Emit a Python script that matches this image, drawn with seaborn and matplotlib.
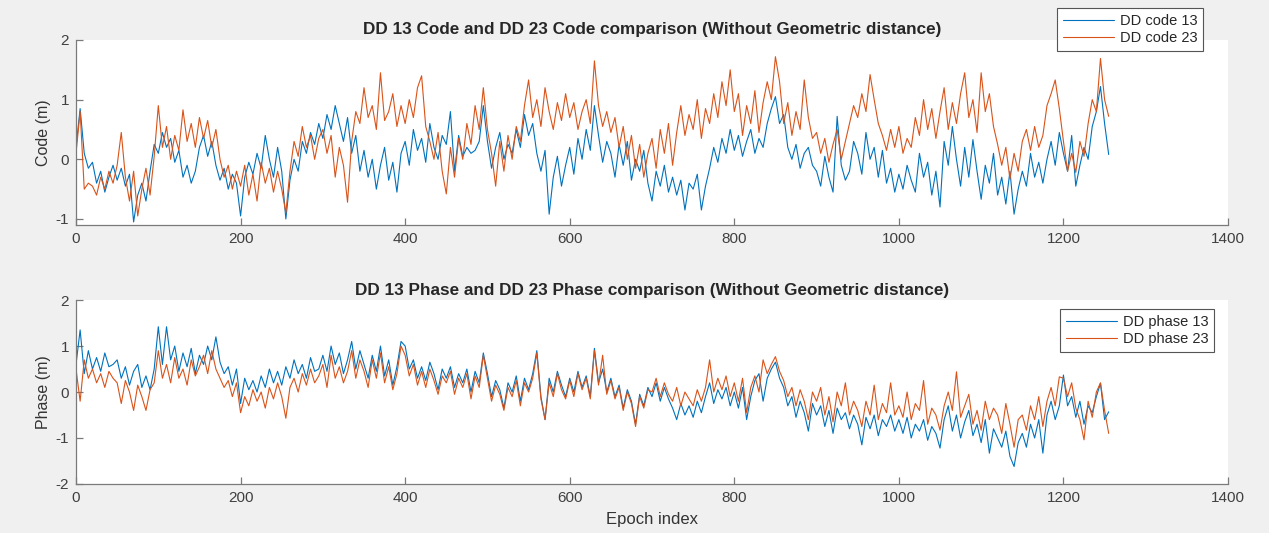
import numpy as np
import pandas as pd
import matplotlib
matplotlib.use("Agg")
import matplotlib.pyplot as plt
import seaborn as sns

# ===== data (one value every 5 epochs) =====
epoch_step = 5

dd_code_13 = [
    0.2, 0.85, 0.1, -0.15, -0.05, -0.4, -0.2, -0.55, -0.3, -0.1,
    -0.35, -0.15, -0.45, -0.25, -1.05, -0.6, -0.4, -0.7, -0.2, 0.25,
    0.1, 0.45, 0.2, 0.35, -0.05, 0.15, -0.3, -0.1, -0.4, -0.2,
    0.2, 0.4, 0.05, 0.3, -0.1, -0.35, -0.15, -0.5, -0.25, -0.4,
    -0.95, -0.3, -0.05, -0.25, 0.1, -0.15, 0.4, 0.0, -0.3, 0.2,
    -0.2, -1.0, -0.35, 0.0, -0.2, 0.3, 0.1, 0.45, 0.25, 0.6,
    0.35, 0.75, 0.5, 0.9, 0.6, 0.3, 0.7, 0.1, 0.4, -0.2,
    0.15, -0.3, 0.0, -0.5, -0.1, 0.2, -0.35, -0.05, -0.55, 0.1,
    0.3, -0.1, 0.5, 0.15, 0.35, -0.05, 0.6, 0.2, 0.0, 0.4,
    0.25, 0.8, -0.2, 0.4, 0.05, 0.2, 0.1, 0.15, 0.3, 0.9,
    0.3, -0.15, 0.2, 0.45, 0.0, 0.25, 0.1, 0.5, 0.2, 0.75,
    0.4, 0.6, 0.1, -0.2, 0.15, -0.92, -0.3, 0.05, -0.45, -0.1,
    0.2, -0.25, 0.35, 0.0, 0.5, 0.15, 0.9, 0.4, -0.05, 0.3,
    0.1, -0.3, 0.25, -0.1, 0.3, -0.35, 0.0, -0.2, 0.15, -0.4,
    -0.7, -0.2, -0.45, -0.1, -0.55, -0.3, -0.6, -0.35, -0.85, -0.4,
    -0.5, -0.25, -0.85, -0.45, -0.15, 0.2, -0.05, 0.35, 0.1, 0.5,
    0.15, 0.4, 0.05, 0.3, 0.5, 0.1, 0.35, 0.2, 0.6, 0.85,
    1.05, 0.6, 0.75, 0.2, 0.0, 0.25, -0.15, 0.1, 0.2, -0.1,
    -0.2, -0.45, 0.05, -0.3, -0.55, 0.72, -0.1, -0.35, -0.2, 0.3,
    0.1, -0.25, 0.45, 0.0, 0.2, -0.3, 0.15, -0.4, -0.15, -0.55,
    -0.25, -0.5, -0.1, -0.35, -0.55, 0.1, -0.3, -0.05, -0.6, -0.2,
    -0.8, 0.3, -0.1, 0.55, 0.0, -0.45, 0.2, -0.3, 0.33, -0.2,
    -0.67, -0.1, -0.4, 0.1, -0.6, -0.3, -0.75, -0.2, -0.92, -0.5,
    -0.2, -0.45, 0.1, -0.3, -0.05, -0.4, 0.0, 0.3, -0.1, 0.45,
    0.1, -0.2, 0.4, -0.45, -0.1, 0.2, 0.0, 0.55, 0.8, 1.22,
    0.6, 0.08,
]

dd_code_23 = [
    0.1, 0.8, -0.5, -0.4, -0.45, -0.6, -0.3, -0.5, -0.2, -0.4,
    -0.1, 0.45, -0.3, -0.7, -0.2, -0.95, -0.5, -0.15, -0.6, 0.05,
    0.9, 0.2, 0.55, 0.0, 0.4, 0.15, 0.83, 0.3, 0.6, 0.2,
    0.7, 0.35, 0.65, 0.2, 0.5, 0.0, -0.3, -0.1, -0.5, -0.2,
    -0.45, -0.1, -0.6, -0.25, -0.7, -0.05, -0.4, -0.15, -0.55, -0.2,
    -0.5, -0.9, -0.2, 0.3, 0.05, 0.55, 0.2, 0.4, 0.0, 0.35,
    0.5, 0.1, 0.4, -0.3, 0.2, -0.1, -0.72, 0.3, 0.8, 0.6,
    1.2, 0.7, 0.9, 0.5, 1.45, 0.65, 0.8, 1.1, 0.55, 0.9,
    0.6, 1.0, 0.7, 1.2, 1.4, 0.55, 0.3, 0.0, 0.45, -0.2,
    -0.58, 0.2, -0.3, 0.35, 0.0, 0.6, 0.25, 0.9, 0.5, 1.2,
    0.5, 0.1, -0.45, 0.3, -0.2, 0.4, 0.0, 0.55, 0.3, 0.9,
    1.33, 0.7, 1.0, 0.55, 1.2, 0.8, 0.5, 0.95, 0.65, 1.1,
    0.7, 0.95, 0.5, 0.8, 1.0, 0.6, 1.65, 0.9, 0.55, 0.8,
    0.45, 0.7, 0.2, 0.55, 0.0, 0.4, -0.15, 0.25, -0.3, 0.1,
    0.35, -0.15, 0.5, 0.1, 0.6, -0.1, 0.45, 0.9, 0.4, 0.75,
    0.5, 1.0, 0.35, 0.85, 0.6, 1.1, 0.7, 1.3, 0.9, 1.5,
    0.8, 1.1, 0.4, 0.9, 0.6, 1.15, 0.45, 0.95, 1.3, 1.0,
    1.72, 1.3, 0.6, 0.95, 0.4, 0.8, 0.5, 1.33, 0.7, 0.35,
    0.45, 0.1, 0.35, -0.05, 0.25, 0.5, 0.0, 0.3, 0.6, 0.9,
    0.7, 1.1, 0.8, 1.42, 1.0, 0.6, 0.4, 0.15, 0.5, 0.2,
    0.55, 0.1, 0.35, 0.2, 0.7, 0.4, 1.0, 0.5, 0.85, 0.35,
    0.8, 1.2, 0.5, 0.95, 0.6, 1.1, 1.45, 0.7, 1.0, 0.45,
    1.45, 0.8, 1.1, 0.55, 0.25, -0.1, 0.2, -0.33, 0.1, -0.2,
    0.3, 0.5, 0.15, 0.55, 0.2, 0.4, 0.9, 1.1, 1.33, 0.85,
    0.3, -0.2, 0.1, -0.22, 0.3, 0.05, 0.6, 1.0, 0.8, 1.69,
    1.0, 0.72,
]

dd_phase_13 = [
    0.6, 1.35, 0.4, 0.9, 0.5, 0.75, 0.45, 0.85, 0.55, 0.6,
    0.7, 0.3, 0.55, 0.15, 0.45, 0.6, 0.1, 0.35, 0.05, 0.5,
    1.42, 0.6, 1.42, 0.7, 1.0, 0.45, 0.85, 0.55, 0.95, 0.4,
    0.8, 0.6, 1.0, 0.7, 1.2, 0.65, 0.4, 0.55, 0.15, 0.5,
    -0.25, 0.3, 0.05, 0.25, 0.0, 0.35, 0.1, 0.5, 0.2, 0.45,
    0.15, 0.55, 0.3, 0.7, 0.4, 0.6, 0.3, 0.75, 0.45, 0.5,
    0.8, 0.45, 1.0, 0.6, 0.85, 0.4, 0.7, 1.1, 0.5, 0.9,
    0.6, 0.3, 0.8, 0.45, 1.0, 0.35, 0.7, 0.15, 0.55, 1.1,
    1.0, 0.5, 0.7, 0.3, 0.55, 0.25, 0.65, 0.4, 0.05, 0.5,
    0.3, 0.55, 0.1, 0.4, 0.2, 0.5, 0.0, 0.45, 0.2, 0.85,
    0.4, -0.1, 0.25, 0.05, -0.35, 0.2, 0.0, 0.35, -0.2, 0.3,
    0.05, 0.4, 0.9, -0.1, -0.6, 0.3, 0.0, 0.45, 0.15, -0.1,
    0.3, 0.0, 0.45, 0.1, 0.35, -0.1, 0.95, 0.2, 0.5, 0.0,
    0.3, -0.1, 0.15, -0.35, 0.05, -0.2, -0.7, -0.05, -0.3, 0.1,
    -0.1, 0.2, -0.2, 0.1, -0.15, -0.35, -0.6, -0.25, -0.5, -0.3,
    -0.55, -0.2, -0.45, -0.1, 0.2, -0.25, 0.05, -0.15, 0.1, -0.3,
    0.0, -0.35, 0.1, -0.6, -0.1, 0.25, 0.4, -0.2, 0.3, 0.5,
    0.65, 0.3, 0.1, -0.3, -0.1, -0.55, -0.2, -0.45, -0.85, -0.25,
    -0.5, -0.3, -0.75, -0.4, -0.9, -0.35, -0.6, -0.45, -0.8, -0.5,
    -0.7, -1.15, -0.55, -0.8, -0.5, -0.95, -0.6, -0.75, -0.5, -0.85,
    -0.6, -0.9, -0.55, -1.0, -0.7, -0.85, -0.6, -1.05, -0.75, -0.9,
    -1.22, -0.6, -0.3, -0.85, -0.5, -1.0, -0.65, -0.4, -0.95, -0.7,
    -1.1, -0.6, -1.33, -0.8, -1.0, -1.2, -0.85, -1.4, -1.62, -1.1,
    -0.9, -1.2, -0.7, -1.0, -0.6, -1.33, -0.5, -0.2, -0.6, -0.3,
    0.37, -0.3, -0.1, -0.55, -0.2, -0.7, -0.3, -0.45, -0.1, 0.19,
    -0.6, -0.43,
]

dd_phase_23 = [
    0.5, -0.2, 0.7, 0.3, 0.5, 0.2, 0.4, 0.1, 0.45, 0.3,
    0.2, -0.25, 0.25, 0.0, -0.4, 0.15, -0.1, -0.4, 0.05, 0.2,
    0.9, 0.3, 0.6, 0.2, 0.75, 0.3, 0.5, 0.15, 0.7, 0.35,
    0.55, 0.8, 0.4, 0.9, 0.5, 0.3, 0.1, 0.25, -0.1, 0.2,
    -0.45, -0.1, -0.3, 0.05, -0.2, 0.0, -0.35, 0.1, -0.15, 0.2,
    -0.1, -0.57, 0.1, 0.3, 0.0, 0.4, 0.15, 0.5, 0.2, 0.35,
    0.6, 0.1, 0.8, 0.3, 0.55, 0.2, 0.45, 0.9, 0.3, 0.7,
    0.45, 0.1, 0.7, 0.3, 0.85, 0.2, 0.55, 0.05, 0.4, 1.0,
    0.8, 0.35, 0.6, 0.15, 0.45, 0.1, 0.5, 0.25, -0.05, 0.35,
    0.2, 0.45, -0.05, 0.3, 0.1, 0.4, -0.15, 0.35, 0.1, 0.8,
    0.3, -0.2, 0.15, -0.05, -0.4, 0.1, -0.1, 0.25, -0.3, 0.2,
    0.0, 0.3, 0.85, -0.15, -0.6, 0.2, -0.1, 0.4, 0.05, -0.15,
    0.25, -0.1, 0.4, 0.05, 0.3, -0.15, 0.9, 0.15, 0.8, -0.05,
    0.25, -0.15, 0.1, -0.4, 0.0, -0.25, -0.75, -0.1, -0.35, 0.05,
    0.0, 0.3, -0.1, 0.2, -0.05, -0.2, 0.1, -0.3, 0.0, -0.15,
    -0.3, 0.05, -0.2, 0.1, 0.7, 0.0, 0.3, 0.05, 0.35, -0.1,
    0.2, -0.2, 0.3, -0.45, 0.1, 0.35, 0.0, 0.7, 0.4, 0.6,
    0.77, 0.45, 0.25, -0.1, 0.1, -0.3, 0.05, -0.2, -0.6, 0.0,
    -0.2, 0.1, -0.5, -0.1, -0.65, 0.0, -0.3, 0.2, -0.5, -0.2,
    -0.4, -0.75, -0.2, -0.5, 0.15, -0.6, -0.25, -0.45, 0.2, -0.5,
    -0.3, -0.55, 0.0, -0.6, -0.25, -0.4, 0.25, -0.7, -0.35, -0.5,
    -0.83, -0.3, 0.0, -0.4, 0.44, -0.55, -0.3, -0.05, -0.7, -0.4,
    -0.83, -0.2, -0.6, -0.35, -0.5, -0.9, -0.25, -0.7, -1.2, -0.6,
    -0.5, -0.83, -0.3, -0.6, -0.1, -0.75, -0.2, 0.1, -0.3, 0.33,
    0.3, -0.1, 0.2, -0.35, -0.6, -1.04, -0.2, -0.55, 0.0, 0.2,
    -0.4, -0.9,
]

x_ticks = [0, 200, 400, 600, 800, 1000, 1200, 1400]
code_yticks = [-1, 0, 1, 2]
phase_yticks = [-2, -1, 0, 1, 2]

blue = "#0072BD"
orange = "#D95319"

epochs = np.arange(len(dd_code_13)) * epoch_step
code_df = pd.DataFrame({"epoch": epochs, "DD code 13": dd_code_13, "DD code 23": dd_code_23})
phase_df = pd.DataFrame({"epoch": epochs, "DD phase 13": dd_phase_13, "DD phase 23": dd_phase_23})

sns.set_style("white")
plt.rcParams["font.family"] = ["Liberation Sans", "DejaVu Sans"]
plt.rcParams["axes.unicode_minus"] = False

fig = plt.figure(figsize=(12.69, 5.33), dpi=100, facecolor="#f0f0f0")
ax1 = fig.add_axes([0.0599, 0.578, 0.9078, 0.347])
ax2 = fig.add_axes([0.0599, 0.092, 0.9078, 0.345])


def style_axis(ax, yticks, ylim):
    ax.set_facecolor("white")
    ax.set_xlim(0, 1400)
    ax.set_ylim(*ylim)
    ax.set_xticks(x_ticks)
    ax.set_yticks(yticks)
    for side in ["top", "right"]:
        ax.spines[side].set_visible(False)
    for side in ["left", "bottom"]:
        ax.spines[side].set_color("#7a7a7a")
        ax.spines[side].set_linewidth(0.9)
    ax.tick_params(direction="in", length=5, width=0.9, color="#7a7a7a",
                   labelsize=11, labelcolor="#404040", left=True, bottom=True, pad=5)


legend_kw = dict(fontsize=10.5, handlelength=3.5, fancybox=False, framealpha=1,
                 edgecolor="#555555", borderpad=0.4, labelspacing=0.25,
                 handletextpad=0.4, borderaxespad=0)

# ===== 1. Code comparison =====
sns.lineplot(data=code_df, x="epoch", y="DD code 13", ax=ax1, color=blue,
             linewidth=0.8, label="DD code 13", estimator=None)
sns.lineplot(data=code_df, x="epoch", y="DD code 23", ax=ax1, color=orange,
             linewidth=0.8, label="DD code 23", estimator=None)
style_axis(ax1, code_yticks, (-1.1, 2))
ax1.set_title("DD 13 Code and DD 23 Code comparison (Without Geometric distance)",
              fontsize=12.3, fontweight="bold", pad=4)
ax1.set_xlabel("")
ax1.set_ylabel("Code (m)", fontsize=11.5, color="#333333", labelpad=3)
leg1 = ax1.legend(loc="upper right", bbox_to_anchor=(0.948, 0.985),
                  bbox_transform=fig.transFigure, **legend_kw)
leg1.get_frame().set_linewidth(0.8)

# ===== 2. Phase comparison =====
sns.lineplot(data=phase_df, x="epoch", y="DD phase 13", ax=ax2, color=blue,
             linewidth=0.8, label="DD phase 13", estimator=None)
sns.lineplot(data=phase_df, x="epoch", y="DD phase 23", ax=ax2, color=orange,
             linewidth=0.8, label="DD phase 23", estimator=None)
style_axis(ax2, phase_yticks, (-2, 2))
ax2.set_title("DD 13 Phase and DD 23 Phase comparison (Without Geometric distance)",
              fontsize=12.3, fontweight="bold", pad=4)
ax2.set_xlabel("Epoch index", fontsize=12, color="#333333", labelpad=5)
ax2.set_ylabel("Phase (m)", fontsize=11.5, color="#333333", labelpad=3)
leg2 = ax2.legend(loc="upper right", bbox_to_anchor=(0.9567, 0.4203),
                  bbox_transform=fig.transFigure, **legend_kw)
leg2.get_frame().set_linewidth(0.8)

plt.savefig("out.png", dpi=100, facecolor=fig.get_facecolor())
plt.close()
